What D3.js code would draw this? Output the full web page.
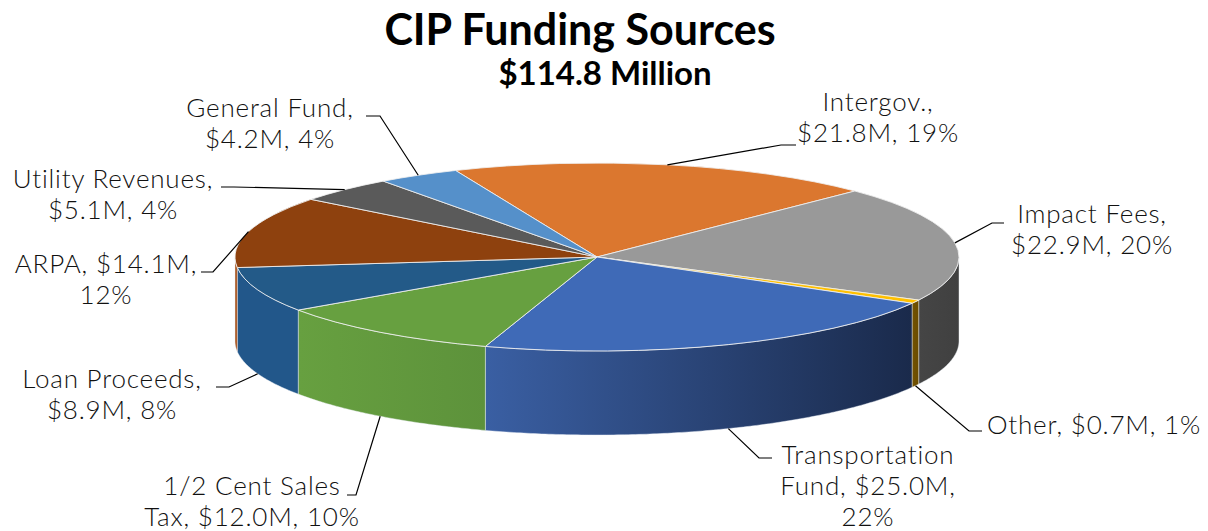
<!DOCTYPE html>
<html>
<head>
<meta charset="utf-8">
<script src="https://cdn.jsdelivr.net/npm/d3@7"></script>
<style>
  html, body { margin: 0; padding: 0; background: #ffffff; }
  svg { display: block; }
</style>
</head>
<body>
<svg id="chart" width="1208" height="531"></svg>
<script>
// ---- data ----
const categories = ["Intergov.", "Impact Fees", "Other", "Transportation Fund",
  "1/2 Cent Sales Tax", "Loan Proceeds", "ARPA", "Utility Revenues", "General Fund"];
const values = [21.8, 22.9, 0.7, 25.0, 12.0, 8.9, 14.1, 5.1, 4.2]; // $M
const titleText = "CIP Funding Sources";
const subtitleText = "$114.8 Million";

// ---- styling ----
const topColors  = ["#db772f", "#999999", "#ffc000", "#3f6ab7", "#67a040", "#235a88", "#8e410e", "#5a5a5a", "#5590ca"];
const sideColors = [["#b8611f", "#b8611f"], ["#454545", "#404040"], ["#735200", "#6a4c00"],
  ["#3a5fa3", "#1a2a4b"], ["#67a040", "#5d923b"], ["#22578a", "#22578a"],
  ["#a8521a", "#a8521a"], ["#444444", "#444444"], ["#3f72a8", "#3f72a8"]];
// words per line of each wrapped label
const lineBreaks = [[1, 2], [2, 2], [3], [1, 2, 1], [3, 3], [2, 2], [2, 1], [2, 2], [2, 2]];
// label centre x, first baseline y, leader start [x, y] and elbow x
const labelLayout = [
  { x: 878,  y: 111, lead: [796, 145, 781] },
  { x: 1092, y: 223, lead: [1004, 223, 992] },
  { x: 1094, y: 434, lead: [982, 431, 969] },
  { x: 868,  y: 464, lead: [772, 458, 759] },
  { x: 252,  y: 495, lead: [347, 495, 356] },
  { x: 112,  y: 388, lead: [216, 387, 229] },
  { x: 106,  y: 273, lead: [201, 272, 213] },
  { x: 113,  y: 188, lead: [221, 187, 234] },
  { x: 270,  y: 117, lead: [366, 116, 380] }
];

const W = 1208, H = 531;
const cx = 597, cy = 257, rx = 362, ry = 94, depth = 84;
const lineH = 31;
const startDeg = -23;

const svg = d3.select("#chart");
const defs = svg.append("defs");

const total = d3.sum(values);
const pie = d3.pie().sort(null).value(d => d)
  .startAngle(startDeg * Math.PI / 180)
  .endAngle(startDeg * Math.PI / 180 + 2 * Math.PI);
const arcs = pie(values);

// ellipse projection of a rim angle (0 = 12 o'clock, clockwise)
const ex = a => cx + rx * Math.sin(a);
const ey = a => cy - ry * Math.cos(a);

// ---- side walls (front half only) ----
const sideG = svg.append("g");
arcs.forEach((d, i) => {
  const s = Math.max(d.startAngle, Math.PI / 2);
  const e = Math.min(d.endAngle, 3 * Math.PI / 2);
  if (s >= e) return;
  const steps = Math.max(2, Math.ceil((e - s) / 0.01));
  const angs = d3.range(steps + 1).map(k => s + (e - s) * k / steps);
  const topPts = angs.map(a => [ex(a), ey(a)]);
  const botPts = angs.slice().reverse().map(a => [ex(a), ey(a) + depth]);
  const pts = topPts.concat(botPts);
  const gid = "side" + i;
  const xs = topPts.map(p => p[0]);
  const g = defs.append("linearGradient").attr("id", gid)
    .attr("gradientUnits", "userSpaceOnUse")
    .attr("x1", d3.min(xs)).attr("x2", d3.max(xs)).attr("y1", 0).attr("y2", 0);
  g.append("stop").attr("offset", "0%").attr("stop-color", sideColors[i][0]);
  g.append("stop").attr("offset", "100%").attr("stop-color", sideColors[i][1]);
  sideG.append("path")
    .attr("d", "M" + pts.map(p => p.join(",")).join("L") + "Z")
    .attr("fill", `url(#${gid})`)
    .attr("stroke", "rgba(235,240,245,0.55)")
    .attr("stroke-width", 0.8);
});

// ---- top face ----
const arc = d3.arc().innerRadius(0).outerRadius(rx);
const topG = svg.append("g")
  .attr("transform", `translate(${cx},${cy}) scale(1,${ry / rx})`);
topG.selectAll("path").data(arcs).join("path")
  .attr("d", arc)
  .attr("fill", (d, i) => topColors[i])
  .attr("stroke", "rgba(240,240,240,0.85)")
  .attr("stroke-width", 1)
  .attr("vector-effect", "non-scaling-stroke");

// ---- leader lines ----
const leadG = svg.append("g");
arcs.forEach((d, i) => {
  const m = (d.startAngle + d.endAngle) / 2;
  const ax = ex(m);
  const ay = ey(m) + (Math.cos(m) < 0 ? depth : 0);
  const L = labelLayout[i].lead;
  leadG.append("path")
    .attr("d", `M${L[0]},${L[1]}H${L[2]}L${ax},${ay}`)
    .attr("fill", "none")
    .attr("stroke", "#000")
    .attr("stroke-width", 1.2);
});

// ---- data labels ----
const labG = svg.append("g")
  .attr("font-family", "Lato, 'DejaVu Sans', sans-serif")
  .attr("font-size", 26)
  .attr("font-weight", 300)
  .attr("letter-spacing", 0.8)
  .attr("fill", "#111");
arcs.forEach((d, i) => {
  const pct = Math.round(values[i] / total * 100);
  const words = `${categories[i]}, $${values[i].toFixed(1)}M, ${pct}%`.split(" ");
  const lines = [];
  let k = 0;
  lineBreaks[i].forEach(n => { lines.push(words.slice(k, k + n).join(" ")); k += n; });
  const t = labG.append("text").attr("text-anchor", "middle");
  lines.forEach((ln, j) => {
    t.append("tspan").attr("x", labelLayout[i].x).attr("y", labelLayout[i].y + j * lineH).text(ln);
  });
});

// ---- titles ----
svg.append("text")
  .attr("x", 580).attr("y", 45)
  .attr("text-anchor", "middle")
  .attr("font-family", "Lato, 'Open Sans', sans-serif")
  .attr("font-weight", 700)
  .attr("font-size", 43)
  .attr("fill", "#000")
  .text(titleText);
svg.append("text")
  .attr("x", 605).attr("y", 84.5)
  .attr("text-anchor", "middle")
  .attr("font-family", "Lato, 'Open Sans', sans-serif")
  .attr("font-weight", 700)
  .attr("font-size", 33)
  .attr("fill", "#000")
  .text(subtitleText);
</script>
</body>
</html>
